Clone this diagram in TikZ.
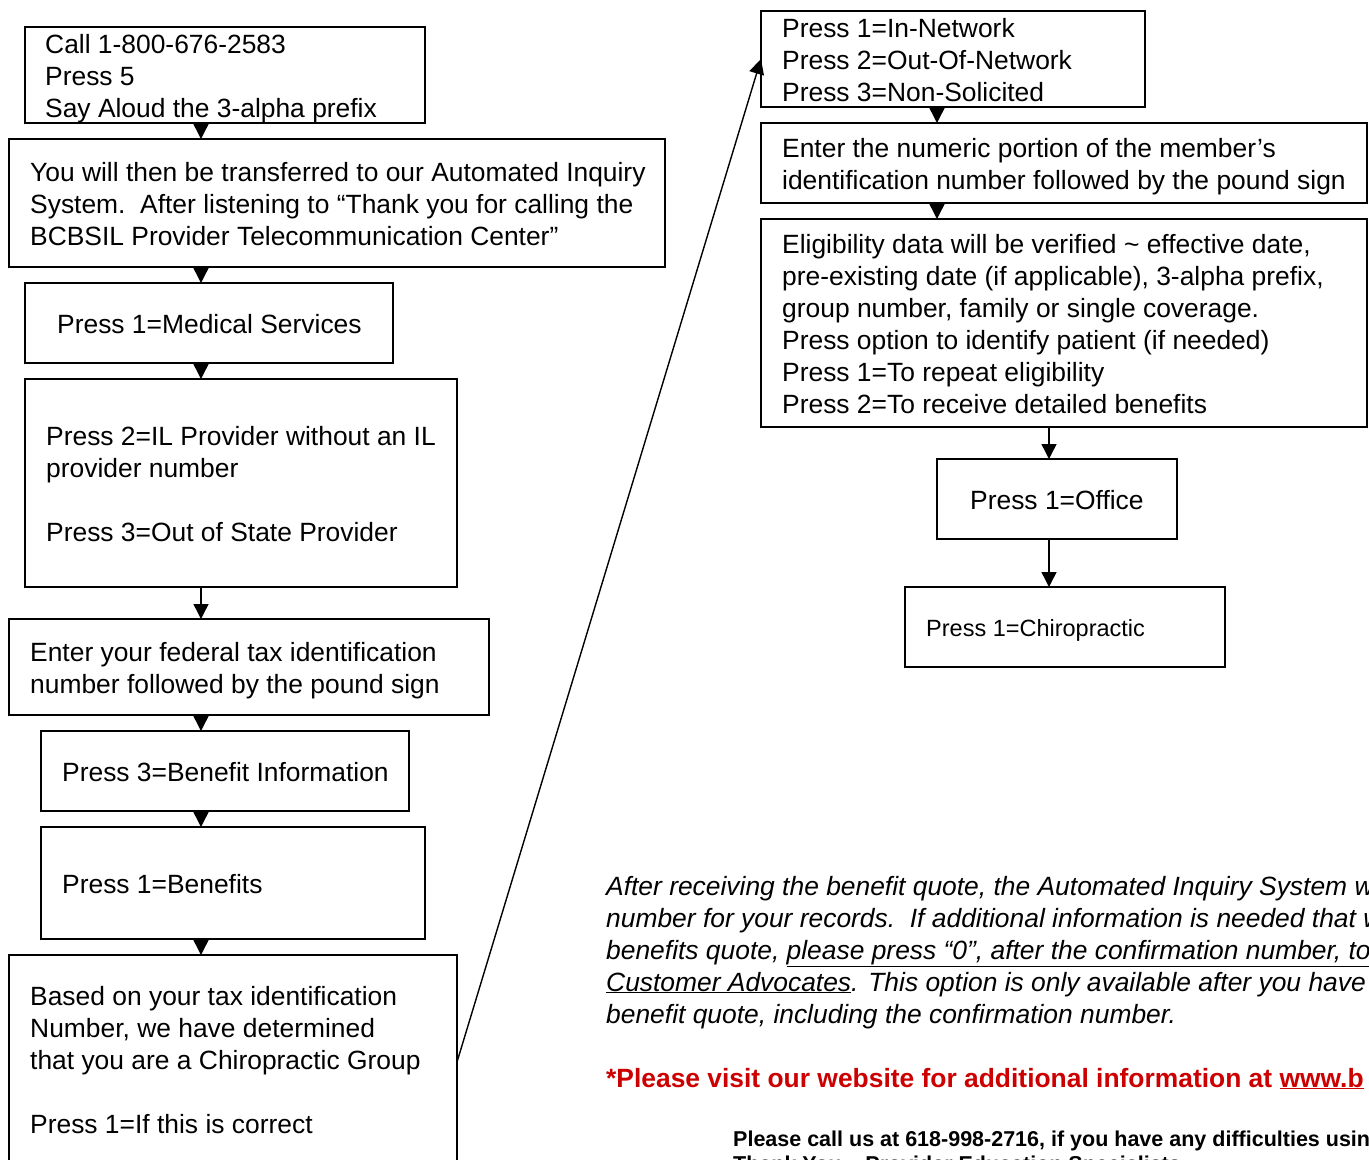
\documentclass[tikz,border=0pt]{standalone}
\usepackage{fontspec}
\setmainfont{Liberation Sans}
\usetikzlibrary{arrows.meta}
\definecolor{redtxt}{RGB}{204,0,0}
\begin{document}
\begin{tikzpicture}[x=1pt,y=-1pt,
  box/.style={draw,line width=1.6pt,inner sep=0pt,outer sep=0pt},
  txt/.style={anchor=base west,inner sep=0pt,font=\fontsize{26.4}{32}\selectfont},
  smalltxt/.style={anchor=base west,inner sep=0pt,font=\fontsize{23.5}{28}\selectfont},
  itxt/.style={anchor=base west,inner sep=0pt,font=\fontsize{26.4}{32}\selectfont\itshape},
  redline/.style={anchor=base west,inner sep=0pt,text=redtxt,font=\fontsize{26.4}{32}\selectfont\bfseries},
  foot/.style={anchor=base west,inner sep=0pt,font=\fontsize{21.5}{25}\selectfont\bfseries},
  arr/.style={line width=1.4pt,-{Triangle[length=15pt,width=15pt]}}]
\useasboundingbox (0,0) rectangle (1369,1160);
\fill[white] (0,0) rectangle (1369,1160);

% left column boxes
\node[box,minimum width=400pt,minimum height=96pt] (b1) at (225,75) {};
\node[box,minimum width=656pt,minimum height=128pt] (b2) at (337,203) {};
\node[box,minimum width=368pt,minimum height=80pt] (b3) at (209,323) {};
\node[box,minimum width=432pt,minimum height=208pt] (b4) at (241,483) {};
\node[box,minimum width=480pt,minimum height=96pt] (b5) at (249,667) {};
\node[box,minimum width=368pt,minimum height=80pt] (b6) at (225,771) {};
\node[box,minimum width=384pt,minimum height=112pt] (b7) at (233,883) {};
\node[box,minimum width=448pt,minimum height=245pt] (b8) at (233,1077.5) {};

% right column boxes
\node[box,minimum width=384pt,minimum height=96pt] (r1) at (953,59) {};
\node[box,minimum width=606pt,minimum height=80pt] (r2) at (1064,163) {};
\node[box,minimum width=606pt,minimum height=208pt] (r3) at (1064,323) {};
\node[box,minimum width=240pt,minimum height=80pt] (r4) at (1057,499) {};
\node[box,minimum width=320pt,minimum height=80pt] (r5) at (1065,627) {};

% texts left
\node[txt] (t1a) at (45,53) {Call 1-800-676-2583};
\node[txt] (t1b) at (45,85) {Press 5};
\node[txt] (t1c) at (45,117) {Say Aloud the 3-alpha prefix};
\node[txt] (t2a) at (30,181) {You will then be transferred to our Automated Inquiry};
\node[txt] (t2b) at (30,213) {System.\ \ After listening to “Thank you for calling the};
\node[txt] (t2c) at (30,245) {BCBSIL Provider Telecommunication Center”};
\node[txt] (t3) at (57,333) {Press 1=Medical Services};
\node[txt] (t4a) at (46,445) {Press 2=IL Provider without an IL};
\node[txt] (t4b) at (46,477) {provider number};
\node[txt] (t4c) at (46,541) {Press 3=Out of State Provider};
\node[txt] (t5a) at (30,661) {Enter your federal tax identification};
\node[txt] (t5b) at (30,693) {number followed by the pound sign};
\node[txt] (t6) at (62,781) {Press 3=Benefit Information};
\node[txt] (t7) at (62,893) {Press 1=Benefits};
\node[txt] (t8a) at (30,1005) {Based on your tax identification};
\node[txt] (t8b) at (30,1037) {Number, we have determined};
\node[txt] (t8c) at (30,1069) {that you are a Chiropractic Group};
\node[txt] (t8d) at (30,1133) {Press 1=If this is correct};

% texts right
\node[txt] (s1a) at (782,37) {Press 1=In-Network};
\node[txt] (s1b) at (782,69) {Press 2=Out-Of-Network};
\node[txt] (s1c) at (782,101) {Press 3=Non-Solicited};
\node[txt] (s2a) at (782,157) {Enter the numeric portion of the member’s};
\node[txt] (s2b) at (782,189) {identification number followed by the pound sign};
\node[txt] (s3a) at (782,253) {Eligibility data will be verified \textasciitilde\ effective date,};
\node[txt] (s3b) at (782,285) {pre-existing date (if applicable), 3-alpha prefix,};
\node[txt] (s3c) at (782,317) {group number, family or single coverage.};
\node[txt] (s3d) at (782,349) {Press option to identify patient (if needed)};
\node[txt] (s3e) at (782,381) {Press 1=To repeat eligibility};
\node[txt] (s3f) at (782,413) {Press 2=To receive detailed benefits};
\node[txt] (s4) at (970,509) {Press 1=Office};
\node[smalltxt] (s5) at (926,636) {Press 1=Chiropractic};

% note texts
\node[itxt] (n1) at (606,895) {After receiving the benefit quote, the Automated Inquiry System w};
\node[itxt] (n2) at (606,927) {number for your records.\ \ If additional information is needed that w};
\node[itxt] (n3) at (606,959) {benefits quote, \underline{please press “0”, after the confirmation number, to}};
\node[itxt] (n4) at (606,991) {\underline{Customer Advocates}. This option is only available after you have};
\node[itxt] (n5) at (606,1023) {benefit quote, including the confirmation number.};
\node[redline] (n6) at (606,1087) {*Please visit our website for additional information at \underline{www.b}};
\node[foot] (n7) at (733,1146) {Please call us at 618-998-2716, if you have any difficulties usin};
\node[foot] (n8) at (733,1171) {Thank You – Provider Education Specialists};

% connectors
\coordinate (cx) at (201,0);
\coordinate (rx) at (937,0);
\coordinate (sx) at (1049,0);
\draw[arr] (b1.south -| cx) -- (b2.north -| cx);
\draw[arr] (b2.south -| cx) -- (b3.north -| cx);
\draw[arr] (b3.south -| cx) -- (b4.north -| cx);
\draw[arr] (b4.south -| cx) -- (b5.north -| cx);
\draw[arr] (b5.south -| cx) -- (b6.north -| cx);
\draw[arr] (b6.south -| cx) -- (b7.north -| cx);
\draw[arr] (b7.south -| cx) -- (b8.north -| cx);
\draw[arr] ([yshift=15.5pt]b8.east) -- (r1.west);
\draw[arr] (r1.south -| rx) -- (r2.north -| rx);
\draw[arr] (r2.south -| rx) -- (r3.north -| rx);
\draw[arr] (r3.south -| sx) -- (r4.north -| sx);
\draw[arr] (r4.south -| sx) -- (r5.north -| sx);
\end{tikzpicture}
\end{document}
